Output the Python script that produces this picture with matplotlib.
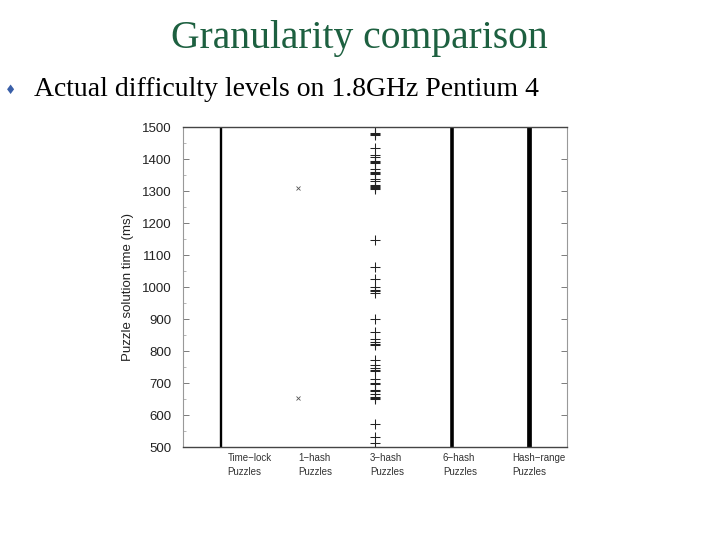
import matplotlib
matplotlib.use("Agg")
import matplotlib.pyplot as plt
import matplotlib.transforms as mtransforms
from matplotlib.ticker import MultipleLocator

# ---- data ----
categories = ["Time\u2212lock\nPuzzles", "1\u2212hash\nPuzzles", "3\u2212hash\nPuzzles",
              "6\u2212hash\nPuzzles", "Hash\u2212range\nPuzzles"]
positions = [1, 2, 3, 4, 5]

# continuous spread (min, max) of dense solution times
timelock_range = (500, 1500)
sixhash_range = (500, 1500)
hashrange_range = (500, 1500)

onehash_times = [1310, 653]

threehash_times = [1499, 1482, 1478, 1475, 1433, 1412, 1405, 1394, 1391, 1389,
                   1369, 1360, 1356, 1353, 1337, 1331, 1320, 1316, 1313, 1310, 1307,
                   1147, 1063, 1025, 1001, 990, 986, 982, 899, 860,
                   837, 829, 821, 818, 772, 755, 747, 740, 737, 714, 699, 696,
                   677, 674, 667, 657, 653, 650, 571, 532, 514, 501]

yticks = [500, 600, 700, 800, 900, 1000, 1100, 1200, 1300, 1400, 1500]

title = "Granularity comparison"
bullet_text = "Actual difficulty levels on 1.8GHz Pentium 4"

# ---- figure ----
fig = plt.figure(figsize=(7.2, 5.4), dpi=100)
fig.patch.set_facecolor("white")

fig.text(0.4985, 0.928, title, ha="center", va="center",
         family="Liberation Serif", fontsize=28.5, color="#1d6040")
fig.text(0.014, 0.832, "\u2666", ha="center", va="center",
         family="DejaVu Sans", fontsize=9, color="#3a5fa8")
fig.text(0.047, 0.835, bullet_text, ha="left", va="center",
         family="Liberation Serif", fontsize=20, color="black")

ax = fig.add_axes([183/720, 1-447/540, (567-183)/720, (447-127)/540])
ax.set_xlim(0.5, 5.5)
ax.set_ylim(500, 1500)

ax.vlines(positions[0], *timelock_range, color="black", lw=1.7)
ax.vlines(positions[3], *sixhash_range, color="black", lw=2.6)
ax.vlines(positions[4], *hashrange_range, color="black", lw=3.4)

ax.plot([positions[1]] * len(onehash_times), onehash_times, ls="none",
        marker="x", ms=3.5, mew=0.6, color="#555555")
ax.plot([positions[2]] * len(threehash_times), threehash_times, ls="none",
        marker="+", ms=6.5, mew=0.75, color="#222222")

# axes styling
for side in ["left", "right"]:
    ax.spines[side].set_color("#999999")
    ax.spines[side].set_linewidth(0.8)
for side in ["top", "bottom"]:
    ax.spines[side].set_color("#444444")
    ax.spines[side].set_linewidth(1.0)

ax.set_yticks(yticks)
ax.yaxis.set_minor_locator(MultipleLocator(50))
ax.tick_params(axis="y", which="major", direction="in", length=4, width=0.6,
               color="#666666", labelsize=9.5, labelcolor="#222222", pad=8,
               right=True)
ax.tick_params(axis="y", which="minor", direction="in", length=2, width=0.5,
               color="#999999", right=False)
for lab in ax.get_yticklabels():
    lab.set_family("Liberation Sans")

ax.set_ylabel("Puzzle solution time (ms)", family="Liberation Sans",
              fontsize=9.5, color="#222222", labelpad=6)

ax.set_xticks(positions)
ax.set_xticklabels(categories, family="Liberation Sans", fontsize=7,
                   color="#333333", linespacing=1.6)
ax.tick_params(axis="x", length=0, pad=4)
label_offsets_px = [6, 0, -5, -9, -16]
for lab, off in zip(ax.get_xticklabels(), label_offsets_px):
    lab.set_ha("left")
    lab.set_transform(lab.get_transform() +
                      mtransforms.ScaledTranslation(off/100, 0, fig.dpi_scale_trans))

fig.savefig("out.png", dpi=100, facecolor="white")
